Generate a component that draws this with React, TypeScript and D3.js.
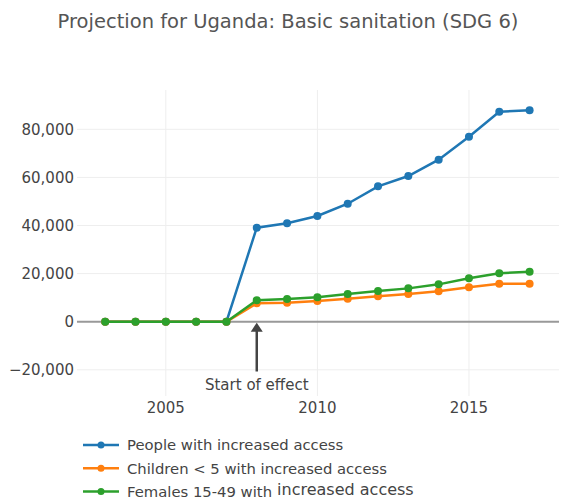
import React from "react";
import * as d3 from "d3";

const years = [2003, 2004, 2005, 2006, 2007, 2008, 2009, 2010, 2011, 2012, 2013, 2014, 2015, 2016, 2017];
const people = [0, 0, 0, 0, 0, 39100, 40900, 43950, 49060, 56300, 60580, 67360, 76920, 87320, 87900];
const children = [0, 0, 0, 0, 0, 7650, 7900, 8600, 9560, 10550, 11520, 12620, 14290, 15800, 15800];
const females = [0, 0, 0, 0, 0, 8900, 9440, 10140, 11520, 12760, 13860, 15530, 18030, 20110, 20790];
const seriesNames = ["People with increased access", "Children < 5 with increased access", "Females 15-49 with"];
const seriesColors = ["#1f77b4", "#ff7f0e", "#2ca02c"];
const xTicks = [2005, 2010, 2015];
const yTicks = [-20000, 0, 20000, 40000, 60000, 80000];
const title = "Projection for Uganda: Basic sanitation (SDG 6)";
const annotationText = "Start of effect";
const annotationYear = 2008;

const FONT = "'DejaVu Sans', Verdana, sans-serif";

export default function App() {
  const W = 575, H = 499;
  const left = 77, right = 559, top = 90, bottom = 396;
  const x = d3.scaleLinear().domain([2002.07, 2017.97]).range([left, right]);
  const y = d3.scaleLinear().domain([-30890, 96340]).range([bottom, top]);
  const data = [people, children, females];
  const line = d3.line<number>().x((_, i) => x(years[i])).y((d) => y(d));
  const fmt = d3.format(",");
  const drawOrder = [0, 1, 2];

  return (
    <svg width={W} height={H} style={{ position: "absolute", left: 0, top: 0, background: "#fff" }}>
      <rect width={W} height={H} fill="#fff" />
      <text x={288} y={28} textAnchor="middle" fontFamily={FONT} fontSize={19.5} fill="#555">
        {title}
      </text>
      {xTicks.map((t) => (
        <line key={"gx" + t} x1={x(t)} x2={x(t)} y1={top} y2={bottom} stroke="#eee" strokeWidth={1} />
      ))}
      {yTicks.filter((t) => t !== 0).map((t) => (
        <line key={"gy" + t} x1={left} x2={right} y1={y(t)} y2={y(t)} stroke="#eee" strokeWidth={1} />
      ))}
      <line x1={left} x2={right} y1={y(0)} y2={y(0)} stroke="#999" strokeWidth={2} />
      {yTicks.map((t) => (
        <text key={"ty" + t} x={left - 3} y={y(t)} dy="0.36em" textAnchor="end" fontFamily={FONT} fontSize={15} fill="#444">
          {t < 0 ? "\u2212" + fmt(-t) : fmt(t)}
        </text>
      ))}
      {xTicks.map((t) => (
        <text key={"tx" + t} x={x(t)} y={413} textAnchor="middle" fontFamily={FONT} fontSize={15} fill="#444">
          {t}
        </text>
      ))}
      {drawOrder.map((si) => (
        <g key={"s" + si}>
          <path d={line(data[si]) || ""} fill="none" stroke={seriesColors[si]} strokeWidth={2.5} />
          {data[si].map((v, i) => (
            <circle key={i} cx={x(years[i])} cy={y(v)} r={4} fill={seriesColors[si]} />
          ))}
        </g>
      ))}
      <line x1={x(annotationYear)} x2={x(annotationYear)} y1={y(0) + 8} y2={371.5} stroke="#444" strokeWidth={2.5} />
      <path
        d={`M${x(annotationYear)},${y(0) + 1} l-6,9 l12,0 z`}
        fill="#444"
      />
      <text x={x(annotationYear)} y={390} textAnchor="middle" fontFamily={FONT} fontSize={15} fill="#444">
        {annotationText}
      </text>
      {seriesNames.map((n, i) => {
        const cy = 445 + i * 23.2;
        return (
          <g key={"lg" + i}>
            <line x1={83} x2={119} y1={cy} y2={cy} stroke={seriesColors[i]} strokeWidth={2.5} />
            <circle cx={101} cy={cy} r={3.5} fill={seriesColors[i]} />
            <text x={127} y={cy} dy="0.36em" fontFamily={FONT} fontSize={14.8} fill="#444">
              {n}
              {i === 2 ? (
                <tspan fontSize={16} dy={-2}>{" increased access"}</tspan>
              ) : null}
            </text>
          </g>
        );
      })}
    </svg>
  );
}
